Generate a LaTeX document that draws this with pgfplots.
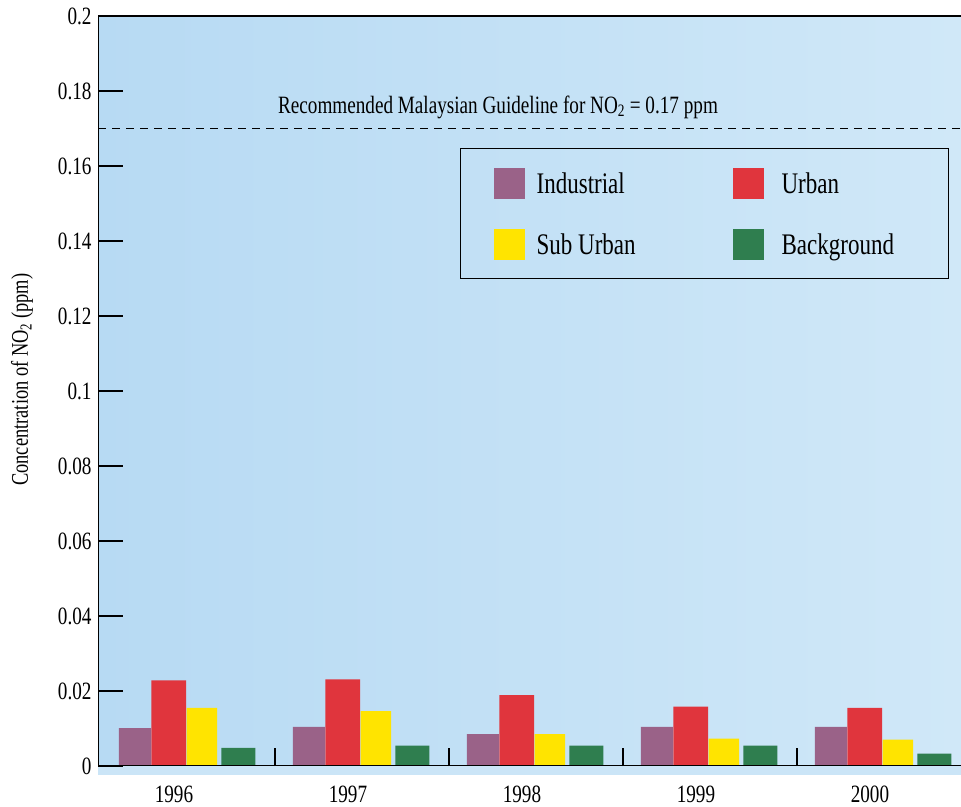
\documentclass[border=0pt]{standalone}
\usepackage{fontspec}
\setmainfont[FakeStretch=0.77]{Liberation Serif}
\usepackage{pgfplots}
\usepackage{pgfplotstable}
\pgfplotsset{compat=1.18}

\definecolor{bgleft}{HTML}{B7DAF3}
\definecolor{bgright}{HTML}{D0E8F8}
\definecolor{indus}{HTML}{9A6288}
\definecolor{urban}{HTML}{E0353D}
\definecolor{suburb}{HTML}{FFE400}
\definecolor{backgr}{HTML}{2F7E4F}

% NO2 concentration (ppm)
\pgfplotstableread{
x  year  ind     urb     sub     bkg
0  1996  0.0101  0.0228  0.0155  0.0048
1  1997  0.0104  0.0231  0.0146  0.0054
2  1998  0.0085  0.0189  0.0085  0.0054
3  1999  0.0104  0.0158  0.0073  0.0054
4  2000  0.0104  0.0155  0.0070  0.0033
}\noxdata

\begin{document}
\begin{tikzpicture}
\useasboundingbox (0,0) rectangle (961bp,807bp);
\fill[bgright!80!bgleft] (98bp,32bp) rectangle (961bp,41bp);
\begin{axis}[
    at={(98bp,41bp)}, anchor=south west,
    scale only axis,
    width=863bp, height=750bp,
    xmin=-0.517, xmax=4.443,
    ymin=0, ymax=0.2,
    ybar,
    axis line style={draw=none},
    axis background/.style={left color=bgleft, right color=bgright},
    tick align=inside,
    ytick pos=left, xtick pos=bottom,
    ytick={0,0.02,0.04,0.06,0.08,0.1,0.12,0.14,0.16,0.18,0.2},
    yticklabels={0,0.02,0.04,0.06,0.08,0.1,0.12,0.14,0.16,0.18,0.2},
    major tick length=25bp,
    ytick style={line width=2bp, black},
    xtick={0,1,2,3,4},
    xticklabels={1996,1997,1998,1999,2000},
    major x tick style={draw=none},
    minor xtick={0.5,1.5,2.5,3.5},
    minor tick length=18bp,
    minor x tick style={line width=1.5bp, black},
    yticklabel style={font=\fontsize{25}{25}\selectfont, xshift=-3bp},
    xticklabel style={font=\fontsize{25}{25}\selectfont, xshift=-14bp, yshift=-16bp},
    ylabel={Concentration of NO\textsubscript{2} (ppm)},
    ylabel style={font=\fontsize{24}{24}\selectfont, at={(axis description cs:-0.088,0.515)}, anchor=center},
    legend columns=2,
    legend image code/.code={\fill[#1] (0bp,-15bp) rectangle (31bp,16bp);},
    legend style={at={(0.4195,0.824)}, anchor=north west,
        draw=black, line width=1.2bp, fill=none,
        font=\fontsize{30}{30}\selectfont,
        inner xsep=33bp, inner ysep=19bp, row sep=30bp},
    legend cell align=left,
]
\addplot[fill=indus, draw=none, bar width=0.184, bar shift=-0.305] table[x=x, y=ind] {\noxdata};
\addlegendentry{\hspace{10bp}\makebox[194bp][l]{Industrial}}
\addplot[fill=urban, draw=none, bar width=0.2, bar shift=-0.11] table[x=x, y=urb] {\noxdata};
\addlegendentry{\hspace{16bp}\makebox[132bp][l]{Urban}}
\addplot[fill=suburb, draw=none, bar width=0.175, bar shift=0.08] table[x=x, y=sub] {\noxdata};
\addlegendentry{\hspace{10bp}\makebox[194bp][l]{Sub Urban}}
\addplot[fill=backgr, draw=none, bar width=0.195, bar shift=0.29] table[x=x, y=bkg] {\noxdata};
\addlegendentry{\hspace{16bp}\makebox[132bp][l]{Background}}

% guideline
\draw[line width=1.4bp, dash pattern=on 8bp off 6bp] (axis cs:-0.517,0.17) -- (axis cs:4.443,0.17);
\node[anchor=base west, font=\fontsize{25}{25}\selectfont, inner sep=0pt]
    at (axis cs:0.517,0.1741) {Recommended Malaysian Guideline for NO\textsubscript{2} = 0.17 ppm};

% axis frame: left, bottom and top
\draw[line width=1.5bp] (rel axis cs:1,1) -- (rel axis cs:0,1) -- (rel axis cs:0,0) -- (rel axis cs:1,0);
\end{axis}
\end{tikzpicture}
\end{document}
